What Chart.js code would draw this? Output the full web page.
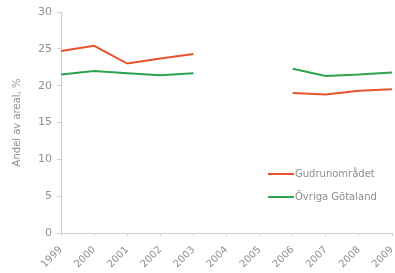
<!DOCTYPE html>
<html>
<head>
<meta charset="utf-8">
<script src="https://cdn.jsdelivr.net/npm/chart.js@4/dist/chart.umd.min.js"></script>
<style>
  html, body { margin: 0; padding: 0; background: #fff; }
  #wrap { width: 395px; height: 273px; }
</style>
</head>
<body>
<div id="wrap"><canvas id="chart" width="395" height="273"></canvas></div>
<script>
// Data
const years = ['1999', '2000', '2001', '2002', '2003', '2004', '2005', '2006', '2007', '2008', '2009'];
const gudrun = [24.7, 25.4, 23.0, 23.7, 24.3, null, null, 19.0, 18.8, 19.3, 19.5];
const ovriga = [21.5, 22.0, 21.7, 21.4, 21.7, null, null, 22.3, 21.3, 21.5, 21.8];
const yTicks = [0, 5, 10, 15, 20, 25, 30];

const red = '#e8532b';
const green = '#2fa24c';
const textGray = '#8f8f8f';
const axisGray = '#d0d0d0';

// Legend drawn inside plot area, lower right
const insideLegend = {
    id: 'insideLegend',
    afterDraw(chart) {
        const ctx = chart.ctx;
        const items = [
            { label: 'Gudrunområdet', color: red },
            { label: 'Övriga Götaland', color: green }
        ];
        ctx.save();
        ctx.font = '10px "DejaVu Sans"';
        ctx.textBaseline = 'middle';
        items.forEach((item, i) => {
            const y = 174 + i * 23;
            ctx.strokeStyle = item.color;
            ctx.lineWidth = 2;
            ctx.beginPath();
            ctx.moveTo(268, y);
            ctx.lineTo(294, y);
            ctx.stroke();
            ctx.fillStyle = textGray;
            ctx.fillText(item.label, 295, y);
        });
        ctx.restore();
    }
};

const ctx = document.getElementById('chart').getContext('2d');
new Chart(ctx, {
    type: 'line',
    data: {
        labels: years,
        datasets: [{
            label: 'Gudrunområdet',
            data: gudrun,
            borderColor: red,
            borderWidth: 2,
            pointRadius: 0,
            tension: 0,
            spanGaps: false
        }, {
            label: 'Övriga Götaland',
            data: ovriga,
            borderColor: green,
            borderWidth: 2,
            pointRadius: 0,
            tension: 0,
            spanGaps: false
        }]
    },
    options: {
        responsive: false,
        animation: false,
        layout: { padding: { top: 12, right: 3, left: 0, bottom: 0 } },
        plugins: {
            legend: { display: false },
            tooltip: { enabled: false }
        },
        scales: {
            x: {
                offset: false,
                grid: { display: true, drawOnChartArea: false, drawTicks: true, tickLength: 3, color: axisGray },
                border: { color: axisGray },
                ticks: {
                    color: textGray,
                    font: { family: 'DejaVu Sans', size: 10 },
                    maxRotation: 45,
                    minRotation: 45,
                    autoSkip: false,
                    padding: 8
                },
                afterFit(scale) {
                    scale.height = 40;
                    scale.paddingLeft = 0;
                    scale.paddingRight = 0;
                }
            },
            y: {
                min: 0,
                max: 30,
                afterBuildTicks(scale) { scale.ticks = yTicks.map(v => ({ value: v })); },
                grid: { display: true, drawOnChartArea: false, drawTicks: true, tickLength: 4, color: axisGray },
                border: { color: axisGray },
                ticks: {
                    color: textGray,
                    font: { family: 'DejaVu Sans', size: 11 },
                    padding: 5
                },
                title: {
                    display: true,
                    text: 'Andel av areal, %',
                    color: textGray,
                    font: { family: 'DejaVu Sans', size: 10 },
                    padding: { top: 11, bottom: 0 }
                },
                afterFit(scale) {
                    scale.width = 61;
                    scale.paddingTop = 0;
                    scale.paddingBottom = 0;
                }
            }
        }
    },
    plugins: [insideLegend]
});
</script>
</body>
</html>
